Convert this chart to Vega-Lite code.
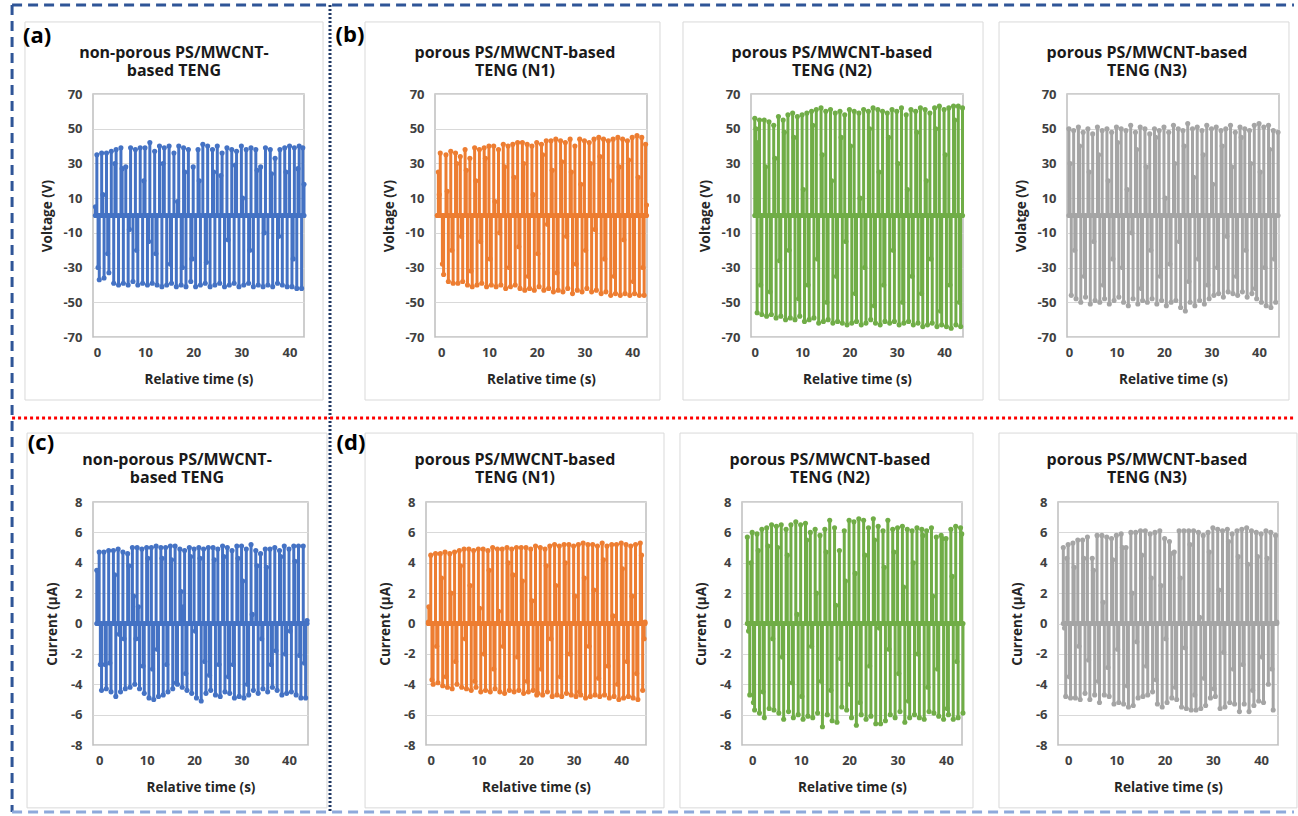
{
"$schema": "https://vega.github.io/schema/vega-lite/v6.json",
"background": "white",
"padding": {"left": 9, "top": 2, "right": 0, "bottom": 0},
"datasets": {
"a": [{"t":-0.3,"v":5},{"t":0,"v":35},{"t":0.25,"v":-30},{"t":0.5,"v":-37},{"t":1,"v":36},{"t":1.25,"v":12},{"t":1.5,"v":-36},{"t":2,"v":36},{"t":2.25,"v":-22},{"t":2.5,"v":-33},{"t":3,"v":37},{"t":3.5,"v":-39},{"t":3.75,"v":30},{"t":4,"v":38},{"t":4.5,"v":-40},{"t":5,"v":39},{"t":5.25,"v":27},{"t":5.5,"v":-39},{"t":6,"v":28},{"t":6.5,"v":-40},{"t":6.75,"v":-8},{"t":7,"v":39},{"t":7.5,"v":-38},{"t":8,"v":38},{"t":8.25,"v":-20},{"t":8.5,"v":-40},{"t":9,"v":39},{"t":9.5,"v":-39},{"t":9.75,"v":20},{"t":10,"v":39},{"t":10.5,"v":-40},{"t":10.75,"v":-15},{"t":11,"v":42},{"t":11.5,"v":-39},{"t":12,"v":37},{"t":12.25,"v":-22},{"t":12.5,"v":-40},{"t":13,"v":40},{"t":13.5,"v":-41},{"t":13.75,"v":30},{"t":14,"v":39},{"t":14.5,"v":-40},{"t":15,"v":40},{"t":15.25,"v":-28},{"t":15.5,"v":-39},{"t":16,"v":36},{"t":16.5,"v":-41},{"t":16.75,"v":8},{"t":17,"v":40},{"t":17.5,"v":-40},{"t":17.75,"v":-30},{"t":18,"v":39},{"t":18.25,"v":25},{"t":18.5,"v":-41},{"t":19,"v":38},{"t":19.5,"v":-38},{"t":19.75,"v":-25},{"t":20,"v":28},{"t":20.5,"v":-41},{"t":21,"v":38},{"t":21.25,"v":20},{"t":21.5,"v":-40},{"t":22,"v":41},{"t":22.5,"v":-39},{"t":22.75,"v":-27},{"t":23,"v":40},{"t":23.5,"v":-41},{"t":24,"v":38},{"t":24.25,"v":25},{"t":24.5,"v":-40},{"t":25,"v":40},{"t":25.5,"v":-39},{"t":25.75,"v":23},{"t":26,"v":36},{"t":26.5,"v":-41},{"t":27,"v":39},{"t":27.25,"v":-14},{"t":27.5,"v":-40},{"t":28,"v":38},{"t":28.5,"v":-39},{"t":28.75,"v":29},{"t":29,"v":37},{"t":29.5,"v":-41},{"t":30,"v":40},{"t":30.25,"v":10},{"t":30.5,"v":-40},{"t":31,"v":38},{"t":31.5,"v":-39},{"t":31.75,"v":-20},{"t":32,"v":39},{"t":32.5,"v":-41},{"t":33,"v":38},{"t":33.25,"v":26},{"t":33.5,"v":-40},{"t":34,"v":28},{"t":34.5,"v":-41},{"t":34.75,"v":-10},{"t":35,"v":39},{"t":35.5,"v":-40},{"t":36,"v":38},{"t":36.25,"v":24},{"t":36.5,"v":-41},{"t":37,"v":33},{"t":37.5,"v":-39},{"t":37.75,"v":-12},{"t":38,"v":38},{"t":38.5,"v":-40},{"t":39,"v":39},{"t":39.25,"v":25},{"t":39.5,"v":-41},{"t":40,"v":40},{"t":40.5,"v":-41},{"t":40.75,"v":-25},{"t":41,"v":39},{"t":41.5,"v":-42},{"t":41.75,"v":27},{"t":42,"v":40},{"t":42.5,"v":-42},{"t":42.75,"v":39},{"t":43,"v":18}],
"b1": [{"t":-0.8,"v":0},{"t":-0.6,"v":25},{"t":-0.4,"v":12},{"t":-0.2,"v":36},{"t":0.25,"v":-28},{"t":0.5,"v":-34},{"t":1,"v":35},{"t":1.25,"v":14},{"t":1.5,"v":-38},{"t":2,"v":37},{"t":2.25,"v":-20},{"t":2.5,"v":-39},{"t":3,"v":36},{"t":3.25,"v":30},{"t":3.5,"v":-39},{"t":4,"v":34},{"t":4.25,"v":-12},{"t":4.5,"v":-38},{"t":5,"v":38},{"t":5.25,"v":26},{"t":5.5,"v":-40},{"t":6,"v":33},{"t":6.25,"v":-32},{"t":6.5,"v":-41},{"t":7,"v":39},{"t":7.25,"v":20},{"t":7.5,"v":-40},{"t":8,"v":38},{"t":8.25,"v":-15},{"t":8.5,"v":-39},{"t":9,"v":39},{"t":9.25,"v":33},{"t":9.5,"v":-41},{"t":10,"v":40},{"t":10.25,"v":-25},{"t":10.5,"v":-40},{"t":11,"v":40},{"t":11.25,"v":8},{"t":11.5,"v":-41},{"t":12,"v":38},{"t":12.25,"v":-10},{"t":12.5,"v":-40},{"t":13,"v":41},{"t":13.25,"v":28},{"t":13.5,"v":-42},{"t":14,"v":40},{"t":14.25,"v":-30},{"t":14.5,"v":-41},{"t":15,"v":41},{"t":15.25,"v":22},{"t":15.5,"v":-40},{"t":16,"v":42},{"t":16.25,"v":-18},{"t":16.5,"v":-42},{"t":17,"v":42},{"t":17.25,"v":30},{"t":17.5,"v":-43},{"t":18,"v":41},{"t":18.25,"v":-35},{"t":18.5,"v":-42},{"t":19,"v":40},{"t":19.25,"v":12},{"t":19.5,"v":-43},{"t":20,"v":42},{"t":20.25,"v":-22},{"t":20.5,"v":-41},{"t":21,"v":41},{"t":21.25,"v":35},{"t":21.5,"v":-43},{"t":22,"v":43},{"t":22.25,"v":-5},{"t":22.5,"v":-42},{"t":23,"v":43},{"t":23.25,"v":26},{"t":23.5,"v":-44},{"t":24,"v":44},{"t":24.25,"v":-33},{"t":24.5,"v":-43},{"t":25,"v":43},{"t":25.25,"v":31},{"t":25.5,"v":-44},{"t":26,"v":42},{"t":26.25,"v":-12},{"t":26.5,"v":-42},{"t":27,"v":44},{"t":27.25,"v":25},{"t":27.5,"v":-45},{"t":28,"v":40},{"t":28.25,"v":-28},{"t":28.5,"v":-43},{"t":29,"v":44},{"t":29.25,"v":18},{"t":29.5,"v":-44},{"t":30,"v":43},{"t":30.25,"v":-20},{"t":30.5,"v":-42},{"t":31,"v":42},{"t":31.25,"v":30},{"t":31.5,"v":-44},{"t":32,"v":44},{"t":32.25,"v":-8},{"t":32.5,"v":-43},{"t":33,"v":45},{"t":33.25,"v":34},{"t":33.5,"v":-45},{"t":34,"v":44},{"t":34.25,"v":-25},{"t":34.5,"v":-44},{"t":35,"v":43},{"t":35.25,"v":20},{"t":35.5,"v":-46},{"t":36,"v":44},{"t":36.25,"v":-35},{"t":36.5,"v":-45},{"t":37,"v":45},{"t":37.25,"v":28},{"t":37.5,"v":-46},{"t":38,"v":44},{"t":38.25,"v":-14},{"t":38.5,"v":-45},{"t":39,"v":43},{"t":39.25,"v":32},{"t":39.5,"v":-46},{"t":40,"v":45},{"t":40.25,"v":-38},{"t":40.5,"v":-45},{"t":41,"v":46},{"t":41.25,"v":22},{"t":41.5,"v":-46},{"t":42,"v":45},{"t":42.25,"v":-30},{"t":42.5,"v":-46},{"t":42.8,"v":41},{"t":43,"v":6}],
"b2": [{"t":0,"v":56},{"t":0.25,"v":50},{"t":0.5,"v":-56},{"t":0.75,"v":42},{"t":1,"v":55},{"t":1.25,"v":-40},{"t":1.5,"v":-57},{"t":2,"v":55},{"t":2.25,"v":28},{"t":2.5,"v":-58},{"t":3,"v":54},{"t":3.25,"v":-44},{"t":3.5,"v":-57},{"t":4,"v":52},{"t":4.25,"v":33},{"t":4.5,"v":-59},{"t":5,"v":57},{"t":5.25,"v":-26},{"t":5.5,"v":-58},{"t":6,"v":55},{"t":6.25,"v":48},{"t":6.5,"v":-60},{"t":7,"v":58},{"t":7.25,"v":-20},{"t":7.5,"v":-59},{"t":8,"v":59},{"t":8.25,"v":45},{"t":8.5,"v":-60},{"t":9,"v":57},{"t":9.25,"v":-48},{"t":9.5,"v":-58},{"t":10,"v":58},{"t":10.25,"v":15},{"t":10.5,"v":-61},{"t":11,"v":59},{"t":11.25,"v":-40},{"t":11.5,"v":-60},{"t":12,"v":60},{"t":12.25,"v":52},{"t":12.5,"v":-59},{"t":13,"v":61},{"t":13.25,"v":-25},{"t":13.5,"v":-62},{"t":14,"v":62},{"t":14.25,"v":35},{"t":14.5,"v":-61},{"t":15,"v":60},{"t":15.25,"v":-50},{"t":15.5,"v":-60},{"t":16,"v":61},{"t":16.25,"v":20},{"t":16.5,"v":-62},{"t":17,"v":59},{"t":17.25,"v":-35},{"t":17.5,"v":-61},{"t":18,"v":60},{"t":18.25,"v":45},{"t":18.5,"v":-62},{"t":19,"v":58},{"t":19.25,"v":-15},{"t":19.5,"v":-63},{"t":20,"v":61},{"t":20.25,"v":40},{"t":20.5,"v":-62},{"t":21,"v":60},{"t":21.25,"v":-45},{"t":21.5,"v":-61},{"t":22,"v":59},{"t":22.25,"v":10},{"t":22.5,"v":-63},{"t":23,"v":61},{"t":23.25,"v":-30},{"t":23.5,"v":-62},{"t":24,"v":60},{"t":24.25,"v":50},{"t":24.5,"v":-60},{"t":25,"v":62},{"t":25.25,"v":-52},{"t":25.5,"v":-62},{"t":26,"v":61},{"t":26.25,"v":25},{"t":26.5,"v":-63},{"t":27,"v":60},{"t":27.25,"v":-40},{"t":27.5,"v":-61},{"t":28,"v":59},{"t":28.25,"v":45},{"t":28.5,"v":-62},{"t":29,"v":61},{"t":29.25,"v":-20},{"t":29.5,"v":-61},{"t":30,"v":60},{"t":30.25,"v":30},{"t":30.5,"v":-63},{"t":31,"v":62},{"t":31.25,"v":-50},{"t":31.5,"v":-62},{"t":32,"v":58},{"t":32.25,"v":15},{"t":32.5,"v":-61},{"t":33,"v":61},{"t":33.25,"v":-35},{"t":33.5,"v":-63},{"t":34,"v":60},{"t":34.25,"v":48},{"t":34.5,"v":-62},{"t":35,"v":62},{"t":35.25,"v":-45},{"t":35.5,"v":-64},{"t":36,"v":61},{"t":36.25,"v":20},{"t":36.5,"v":-63},{"t":37,"v":59},{"t":37.25,"v":-25},{"t":37.5,"v":-62},{"t":38,"v":62},{"t":38.25,"v":50},{"t":38.5,"v":-64},{"t":39,"v":63},{"t":39.25,"v":-55},{"t":39.5,"v":-63},{"t":40,"v":61},{"t":40.25,"v":35},{"t":40.5,"v":-64},{"t":41,"v":62},{"t":41.25,"v":-40},{"t":41.5,"v":-65},{"t":42,"v":63},{"t":42.25,"v":55},{"t":42.5,"v":-63},{"t":43,"v":63},{"t":43.25,"v":-50},{"t":43.5,"v":-64},{"t":43.9,"v":62}],
"b3": [{"t":0,"v":50},{"t":0.25,"v":30},{"t":0.5,"v":-46},{"t":1,"v":49},{"t":1.25,"v":-20},{"t":1.5,"v":-48},{"t":2,"v":51},{"t":2.25,"v":40},{"t":2.5,"v":-50},{"t":3,"v":48},{"t":3.25,"v":-35},{"t":3.5,"v":-47},{"t":4,"v":50},{"t":4.25,"v":25},{"t":4.5,"v":-51},{"t":5,"v":47},{"t":5.25,"v":-15},{"t":5.5,"v":-49},{"t":6,"v":51},{"t":6.25,"v":35},{"t":6.5,"v":-50},{"t":7,"v":49},{"t":7.25,"v":-40},{"t":7.5,"v":-48},{"t":8,"v":50},{"t":8.25,"v":20},{"t":8.5,"v":-51},{"t":9,"v":48},{"t":9.25,"v":-25},{"t":9.5,"v":-49},{"t":10,"v":51},{"t":10.25,"v":42},{"t":10.5,"v":-47},{"t":11,"v":50},{"t":11.25,"v":-30},{"t":11.5,"v":-50},{"t":12,"v":49},{"t":12.25,"v":15},{"t":12.5,"v":-52},{"t":13,"v":52},{"t":13.25,"v":-10},{"t":13.5,"v":-48},{"t":14,"v":48},{"t":14.25,"v":38},{"t":14.5,"v":-51},{"t":15,"v":51},{"t":15.25,"v":-42},{"t":15.5,"v":-49},{"t":16,"v":50},{"t":16.25,"v":28},{"t":16.5,"v":-50},{"t":17,"v":47},{"t":17.25,"v":-20},{"t":17.5,"v":-48},{"t":18,"v":50},{"t":18.25,"v":45},{"t":18.5,"v":-51},{"t":19,"v":49},{"t":19.25,"v":-35},{"t":19.5,"v":-49},{"t":20,"v":51},{"t":20.25,"v":10},{"t":20.5,"v":-52},{"t":21,"v":48},{"t":21.25,"v":-28},{"t":21.5,"v":-50},{"t":22,"v":52},{"t":22.25,"v":30},{"t":22.5,"v":-49},{"t":23,"v":50},{"t":23.25,"v":-15},{"t":23.5,"v":-53},{"t":24,"v":49},{"t":24.25,"v":40},{"t":24.5,"v":-55},{"t":25,"v":53},{"t":25.25,"v":-38},{"t":25.5,"v":-50},{"t":26,"v":50},{"t":26.25,"v":22},{"t":26.5,"v":-52},{"t":27,"v":51},{"t":27.25,"v":-25},{"t":27.5,"v":-49},{"t":28,"v":49},{"t":28.25,"v":35},{"t":28.5,"v":-51},{"t":29,"v":52},{"t":29.25,"v":-40},{"t":29.5,"v":-48},{"t":30,"v":50},{"t":30.25,"v":18},{"t":30.5,"v":-46},{"t":31,"v":51},{"t":31.25,"v":-30},{"t":31.5,"v":-45},{"t":32,"v":49},{"t":32.25,"v":40},{"t":32.5,"v":-47},{"t":33,"v":50},{"t":33.25,"v":-12},{"t":33.5,"v":-44},{"t":34,"v":52},{"t":34.25,"v":28},{"t":34.5,"v":-45},{"t":35,"v":48},{"t":35.25,"v":-35},{"t":35.5,"v":-46},{"t":36,"v":51},{"t":36.25,"v":45},{"t":36.5,"v":-44},{"t":37,"v":50},{"t":37.25,"v":-20},{"t":37.5,"v":-47},{"t":38,"v":49},{"t":38.25,"v":30},{"t":38.5,"v":-45},{"t":39,"v":52},{"t":39.25,"v":-42},{"t":39.5,"v":-48},{"t":40,"v":53},{"t":40.25,"v":25},{"t":40.5,"v":-50},{"t":41,"v":51},{"t":41.25,"v":-30},{"t":41.5,"v":-52},{"t":42,"v":52},{"t":42.25,"v":38},{"t":42.5,"v":-53},{"t":43,"v":49},{"t":43.25,"v":-25},{"t":43.5,"v":-50},{"t":44,"v":48}],
"c": [{"t":-0.5,"v":3.5},{"t":0,"v":4.7},{"t":0.25,"v":-2.7},{"t":0.5,"v":-4.4},{"t":1,"v":4.7},{"t":1.25,"v":-2.7},{"t":1.5,"v":-4.3},{"t":2,"v":4.8},{"t":2.25,"v":-2.6},{"t":2.5,"v":-4.5},{"t":3,"v":4.8},{"t":3.25,"v":3.2},{"t":3.5,"v":-4.8},{"t":4,"v":4.9},{"t":4.25,"v":-0.7},{"t":4.5,"v":-4.5},{"t":5,"v":4.7},{"t":5.25,"v":-1.0},{"t":5.5,"v":-4.3},{"t":6,"v":4.6},{"t":6.25,"v":3.8},{"t":6.5,"v":-4.2},{"t":7,"v":5.0},{"t":7.25,"v":1.8},{"t":7.5,"v":-4.0},{"t":7.75,"v":-1.0},{"t":8,"v":5.0},{"t":8.25,"v":1.1},{"t":8.5,"v":-4.3},{"t":9,"v":4.9},{"t":9.25,"v":-2.8},{"t":9.5,"v":-4.6},{"t":10,"v":5.0},{"t":10.25,"v":4.3},{"t":10.5,"v":-4.9},{"t":11,"v":5.0},{"t":11.25,"v":-3.0},{"t":11.5,"v":-5.0},{"t":12,"v":5.1},{"t":12.25,"v":-1.7},{"t":12.5,"v":-4.8},{"t":13,"v":5.0},{"t":13.25,"v":4.3},{"t":13.5,"v":-4.7},{"t":14,"v":5.0},{"t":14.25,"v":-2.7},{"t":14.5,"v":-4.5},{"t":15,"v":5.1},{"t":15.25,"v":4.2},{"t":15.5,"v":-4.3},{"t":16,"v":5.1},{"t":16.25,"v":-3.9},{"t":16.5,"v":-4.0},{"t":17,"v":4.9},{"t":17.25,"v":2.1},{"t":17.5,"v":-4.2},{"t":17.75,"v":1.1},{"t":18,"v":4.8},{"t":18.25,"v":-3.3},{"t":18.5,"v":-4.4},{"t":19,"v":5.0},{"t":19.25,"v":4.4},{"t":19.5,"v":-4.6},{"t":20,"v":4.9},{"t":20.25,"v":-0.5},{"t":20.5,"v":-4.9},{"t":21,"v":5.0},{"t":21.25,"v":4.3},{"t":21.5,"v":-5.1},{"t":22,"v":4.9},{"t":22.25,"v":-2.5},{"t":22.5,"v":-4.6},{"t":23,"v":5.0},{"t":23.25,"v":-3.4},{"t":23.5,"v":-4.4},{"t":24,"v":5.0},{"t":24.25,"v":4.2},{"t":24.5,"v":-4.7},{"t":25,"v":4.9},{"t":25.25,"v":-2.7},{"t":25.5,"v":-4.8},{"t":26,"v":5.1},{"t":26.25,"v":4.4},{"t":26.5,"v":-4.5},{"t":27,"v":5.0},{"t":27.25,"v":-3.5},{"t":27.5,"v":-4.6},{"t":28,"v":4.8},{"t":28.25,"v":-2.7},{"t":28.5,"v":-4.9},{"t":29,"v":5.1},{"t":29.25,"v":4.3},{"t":29.5,"v":-4.8},{"t":30,"v":5.1},{"t":30.25,"v":2.8},{"t":30.5,"v":-4.9},{"t":31,"v":4.9},{"t":31.25,"v":-4.0},{"t":31.5,"v":-4.7},{"t":32,"v":5.2},{"t":32.25,"v":0.6},{"t":32.5,"v":-4.4},{"t":33,"v":4.8},{"t":33.25,"v":3.8},{"t":33.5,"v":-4.6},{"t":34,"v":4.6},{"t":34.25,"v":-1.0},{"t":34.5,"v":-4.3},{"t":35,"v":4.9},{"t":35.25,"v":3.7},{"t":35.5,"v":-4.5},{"t":36,"v":4.9},{"t":36.25,"v":-2.7},{"t":36.5,"v":-4.2},{"t":37,"v":5.0},{"t":37.25,"v":-1.8},{"t":37.5,"v":-4.4},{"t":38,"v":4.8},{"t":38.25,"v":4.4},{"t":38.5,"v":-4.7},{"t":39,"v":5.1},{"t":39.25,"v":-2.0},{"t":39.5,"v":-4.6},{"t":40,"v":4.9},{"t":40.25,"v":-0.5},{"t":40.5,"v":-4.5},{"t":41,"v":5.1},{"t":41.25,"v":4.1},{"t":41.5,"v":-4.7},{"t":42,"v":5.1},{"t":42.25,"v":-2.1},{"t":42.5,"v":-4.9},{"t":43,"v":5.1},{"t":43.25,"v":-2.6},{"t":43.5,"v":-4.9},{"t":43.8,"v":0.2}],
"d1": [{"t":-0.5,"v":0.1},{"t":-0.4,"v":1.1},{"t":0,"v":4.5},{"t":0.25,"v":-3.7},{"t":0.5,"v":-4.0},{"t":1,"v":4.6},{"t":1.25,"v":-1.5},{"t":1.5,"v":-3.9},{"t":2,"v":4.6},{"t":2.25,"v":3.0},{"t":2.5,"v":-4.1},{"t":3,"v":4.7},{"t":3.25,"v":-3.5},{"t":3.5,"v":-4.2},{"t":4,"v":4.6},{"t":4.25,"v":2.0},{"t":4.5,"v":-4.3},{"t":5,"v":4.7},{"t":5.25,"v":-2.5},{"t":5.5,"v":-4.0},{"t":6,"v":4.8},{"t":6.25,"v":3.8},{"t":6.5,"v":-4.2},{"t":7,"v":4.9},{"t":7.25,"v":-1.0},{"t":7.5,"v":-4.3},{"t":8,"v":4.9},{"t":8.25,"v":2.5},{"t":8.5,"v":-4.4},{"t":9,"v":4.8},{"t":9.25,"v":-3.8},{"t":9.5,"v":-4.2},{"t":10,"v":4.9},{"t":10.25,"v":1.0},{"t":10.5,"v":-4.5},{"t":11,"v":4.9},{"t":11.25,"v":-2.0},{"t":11.5,"v":-4.4},{"t":12,"v":4.8},{"t":12.25,"v":3.5},{"t":12.5,"v":-4.5},{"t":13,"v":5.0},{"t":13.25,"v":-3.0},{"t":13.5,"v":-4.3},{"t":14,"v":4.9},{"t":14.25,"v":0.8},{"t":14.5,"v":-4.5},{"t":15,"v":4.9},{"t":15.25,"v":-1.5},{"t":15.5,"v":-4.6},{"t":16,"v":5.0},{"t":16.25,"v":4.0},{"t":16.5,"v":-4.4},{"t":17,"v":4.9},{"t":17.25,"v":3.2},{"t":17.5,"v":-4.5},{"t":18,"v":5.0},{"t":18.25,"v":-2.2},{"t":18.5,"v":-4.4},{"t":19,"v":5.0},{"t":19.25,"v":2.8},{"t":19.5,"v":-4.6},{"t":20,"v":5.0},{"t":20.25,"v":-3.8},{"t":20.5,"v":-4.5},{"t":21,"v":4.9},{"t":21.25,"v":1.5},{"t":21.5,"v":-4.4},{"t":22,"v":5.1},{"t":22.25,"v":-4.7},{"t":22.5,"v":-4.6},{"t":23,"v":5.0},{"t":23.25,"v":-3.0},{"t":23.5,"v":-4.7},{"t":24,"v":4.9},{"t":24.25,"v":3.8},{"t":24.5,"v":-4.5},{"t":25,"v":5.1},{"t":25.25,"v":-1.0},{"t":25.5,"v":-4.8},{"t":26,"v":5.2},{"t":26.25,"v":2.5},{"t":26.5,"v":-4.7},{"t":27,"v":5.1},{"t":27.25,"v":-3.5},{"t":27.5,"v":-4.8},{"t":28,"v":5.2},{"t":28.25,"v":4.0},{"t":28.5,"v":-4.6},{"t":29,"v":5.2},{"t":29.25,"v":-2.0},{"t":29.5,"v":-4.7},{"t":30,"v":5.1},{"t":30.25,"v":1.8},{"t":30.5,"v":-4.8},{"t":31,"v":5.2},{"t":31.25,"v":-4.5},{"t":31.5,"v":-4.7},{"t":32,"v":5.3},{"t":32.25,"v":3.0},{"t":32.5,"v":-4.9},{"t":33,"v":5.2},{"t":33.25,"v":-1.5},{"t":33.5,"v":-4.8},{"t":34,"v":5.2},{"t":34.25,"v":2.2},{"t":34.5,"v":-4.7},{"t":35,"v":5.1},{"t":35.25,"v":-3.6},{"t":35.5,"v":-4.8},{"t":36,"v":5.3},{"t":36.25,"v":4.2},{"t":36.5,"v":-4.7},{"t":37,"v":5.1},{"t":37.25,"v":-2.8},{"t":37.5,"v":-4.9},{"t":38,"v":5.2},{"t":38.25,"v":0.5},{"t":38.5,"v":-4.8},{"t":39,"v":5.2},{"t":39.25,"v":-4.0},{"t":39.5,"v":-5.0},{"t":40,"v":5.3},{"t":40.25,"v":3.6},{"t":40.5,"v":-4.9},{"t":41,"v":5.2},{"t":41.25,"v":-2.5},{"t":41.5,"v":-4.8},{"t":42,"v":5.1},{"t":42.25,"v":1.8},{"t":42.5,"v":-4.9},{"t":43,"v":5.2},{"t":43.25,"v":-3.3},{"t":43.5,"v":-5.0},{"t":44,"v":5.3},{"t":44.25,"v":4.5},{"t":44.5,"v":-4.4},{"t":44.8,"v":-1.0},{"t":45,"v":0.1}],
"d2": [{"t":-1,"v":5.7},{"t":-0.75,"v":-0.5},{"t":-0.5,"v":-4.7},{"t":-0.25,"v":4.0},{"t":0,"v":6.0},{"t":0.25,"v":-5.2},{"t":0.5,"v":-5.7},{"t":1,"v":5.9},{"t":1.25,"v":4.8},{"t":1.5,"v":-5.9},{"t":2,"v":6.2},{"t":2.25,"v":-4.5},{"t":2.5,"v":-6.2},{"t":3,"v":6.3},{"t":3.25,"v":5.1},{"t":3.5,"v":-5.6},{"t":4,"v":6.5},{"t":4.25,"v":-1.0},{"t":4.5,"v":-5.7},{"t":5,"v":6.4},{"t":5.25,"v":5.0},{"t":5.5,"v":-5.9},{"t":6,"v":6.5},{"t":6.25,"v":-2.2},{"t":6.5,"v":-6.3},{"t":7,"v":6.2},{"t":7.25,"v":4.5},{"t":7.5,"v":-5.8},{"t":8,"v":6.5},{"t":8.25,"v":-3.9},{"t":8.5,"v":-6.2},{"t":9,"v":6.7},{"t":9.25,"v":0.6},{"t":9.5,"v":-6.0},{"t":10,"v":6.5},{"t":10.25,"v":-4.8},{"t":10.5,"v":-6.3},{"t":11,"v":6.6},{"t":11.25,"v":5.5},{"t":11.5,"v":-6.1},{"t":12,"v":6.0},{"t":12.25,"v":-1.5},{"t":12.5,"v":-6.2},{"t":13,"v":6.2},{"t":13.25,"v":2.0},{"t":13.5,"v":-5.9},{"t":14,"v":5.8},{"t":14.25,"v":-3.8},{"t":14.5,"v":-6.8},{"t":15,"v":6.2},{"t":15.25,"v":4.7},{"t":15.5,"v":-6.0},{"t":16,"v":6.8},{"t":16.25,"v":-4.4},{"t":16.5,"v":-6.4},{"t":17,"v":6.3},{"t":17.25,"v":1.2},{"t":17.5,"v":-6.5},{"t":18,"v":4.8},{"t":18.25,"v":-2.3},{"t":18.5,"v":-5.5},{"t":19,"v":6.1},{"t":19.25,"v":2.8},{"t":19.5,"v":-5.7},{"t":20,"v":6.8},{"t":20.25,"v":-4.0},{"t":20.5,"v":-6.2},{"t":21,"v":6.7},{"t":21.25,"v":3.3},{"t":21.5,"v":-6.7},{"t":22,"v":6.9},{"t":22.25,"v":-5.2},{"t":22.5,"v":-6.0},{"t":23,"v":6.8},{"t":23.25,"v":4.5},{"t":23.5,"v":-6.3},{"t":24,"v":6.3},{"t":24.25,"v":-2.8},{"t":24.5,"v":-6.1},{"t":25,"v":6.9},{"t":25.25,"v":5.5},{"t":25.5,"v":-6.6},{"t":26,"v":6.4},{"t":26.25,"v":-0.3},{"t":26.5,"v":-6.6},{"t":27,"v":6.1},{"t":27.25,"v":3.7},{"t":27.5,"v":-6.4},{"t":28,"v":6.8},{"t":28.25,"v":-1.7},{"t":28.5,"v":-6.0},{"t":29,"v":6.2},{"t":29.25,"v":4.7},{"t":29.5,"v":-6.2},{"t":30,"v":6.3},{"t":30.25,"v":-3.3},{"t":30.5,"v":-5.8},{"t":31,"v":6.4},{"t":31.25,"v":2.4},{"t":31.5,"v":-6.5},{"t":32,"v":6.2},{"t":32.25,"v":-5.1},{"t":32.5,"v":-6.2},{"t":33,"v":6.1},{"t":33.25,"v":4.0},{"t":33.5,"v":-6.0},{"t":34,"v":6.3},{"t":34.25,"v":-2.0},{"t":34.5,"v":-6.2},{"t":35,"v":6.2},{"t":35.25,"v":5.8},{"t":35.5,"v":-6.3},{"t":36,"v":6.1},{"t":36.25,"v":-4.2},{"t":36.5,"v":-5.8},{"t":37,"v":6.3},{"t":37.25,"v":1.8},{"t":37.5,"v":-5.9},{"t":38,"v":5.7},{"t":38.25,"v":-3.0},{"t":38.5,"v":-6.1},{"t":39,"v":5.8},{"t":39.25,"v":5.6},{"t":39.5,"v":-6.3},{"t":40,"v":5.6},{"t":40.25,"v":-5.6},{"t":40.5,"v":-6.0},{"t":41,"v":6.2},{"t":41.25,"v":3.1},{"t":41.5,"v":-6.3},{"t":42,"v":6.4},{"t":42.25,"v":-2.5},{"t":42.5,"v":-6.2},{"t":43,"v":6.3},{"t":43.25,"v":5.9},{"t":43.5,"v":-5.9}],
"d3": [{"t":-1,"v":5.0},{"t":-0.75,"v":-0.3},{"t":-0.5,"v":-4.8},{"t":-0.25,"v":4.3},{"t":0,"v":5.2},{"t":0.25,"v":-3.5},{"t":0.5,"v":-4.9},{"t":1,"v":5.3},{"t":1.25,"v":3.7},{"t":1.5,"v":-4.9},{"t":2,"v":5.5},{"t":2.25,"v":-1.5},{"t":2.5,"v":-5.0},{"t":3,"v":5.5},{"t":3.25,"v":4.3},{"t":3.5,"v":-4.6},{"t":4,"v":5.7},{"t":4.25,"v":-2.4},{"t":4.5,"v":-5.0},{"t":5,"v":4.3},{"t":5.25,"v":3.5},{"t":5.5,"v":-4.7},{"t":6,"v":5.8},{"t":6.25,"v":-3.8},{"t":6.5,"v":-5.2},{"t":7,"v":5.8},{"t":7.25,"v":1.4},{"t":7.5,"v":-4.7},{"t":8,"v":5.7},{"t":8.25,"v":-2.9},{"t":8.5,"v":-4.8},{"t":9,"v":5.6},{"t":9.25,"v":4.2},{"t":9.5,"v":-5.3},{"t":10,"v":5.8},{"t":10.25,"v":-1.7},{"t":10.5,"v":-5.2},{"t":11,"v":5.9},{"t":11.25,"v":5.0},{"t":11.5,"v":-5.3},{"t":12,"v":5.0},{"t":12.25,"v":-4.1},{"t":12.5,"v":-5.5},{"t":13,"v":6.0},{"t":13.25,"v":2.0},{"t":13.5,"v":-5.4},{"t":14,"v":6.0},{"t":14.25,"v":-1.2},{"t":14.5,"v":-4.9},{"t":15,"v":6.1},{"t":15.25,"v":4.5},{"t":15.5,"v":-4.8},{"t":16,"v":6.1},{"t":16.25,"v":-2.8},{"t":16.5,"v":-4.7},{"t":17,"v":5.9},{"t":17.25,"v":3.0},{"t":17.5,"v":-4.5},{"t":18,"v":6.0},{"t":18.25,"v":-3.7},{"t":18.5,"v":-5.3},{"t":19,"v":6.1},{"t":19.25,"v":2.5},{"t":19.5,"v":-5.5},{"t":20,"v":5.6},{"t":20.25,"v":-1.0},{"t":20.5,"v":-5.2},{"t":21,"v":5.4},{"t":21.25,"v":4.6},{"t":21.5,"v":-4.9},{"t":22,"v":4.7},{"t":22.25,"v":-4.2},{"t":22.5,"v":-5.0},{"t":23,"v":6.1},{"t":23.25,"v":3.0},{"t":23.5,"v":-5.5},{"t":24,"v":6.1},{"t":24.25,"v":-1.6},{"t":24.5,"v":-5.6},{"t":25,"v":6.1},{"t":25.25,"v":5.2},{"t":25.5,"v":-5.7},{"t":26,"v":6.1},{"t":26.25,"v":-4.7},{"t":26.5,"v":-5.7},{"t":27,"v":6.0},{"t":27.25,"v":0.4},{"t":27.5,"v":-5.6},{"t":28,"v":5.8},{"t":28.25,"v":-3.6},{"t":28.5,"v":-5.4},{"t":29,"v":6.0},{"t":29.25,"v":4.7},{"t":29.5,"v":-4.9},{"t":30,"v":6.3},{"t":30.25,"v":-4.3},{"t":30.5,"v":-4.8},{"t":31,"v":6.2},{"t":31.25,"v":2.2},{"t":31.5,"v":-5.6},{"t":32,"v":6.1},{"t":32.25,"v":-1.9},{"t":32.5,"v":-5.5},{"t":33,"v":6.2},{"t":33.25,"v":5.4},{"t":33.5,"v":-5.2},{"t":34,"v":5.9},{"t":34.25,"v":-3.0},{"t":34.5,"v":-5.3},{"t":35,"v":6.1},{"t":35.25,"v":4.4},{"t":35.5,"v":-5.8},{"t":36,"v":6.2},{"t":36.25,"v":-2.7},{"t":36.5,"v":-5.3},{"t":37,"v":6.3},{"t":37.25,"v":3.9},{"t":37.5,"v":-5.8},{"t":38,"v":6.1},{"t":38.25,"v":-4.4},{"t":38.5,"v":-5.4},{"t":39,"v":6.0},{"t":39.25,"v":4.4},{"t":39.5,"v":-5.1},{"t":40,"v":5.9},{"t":40.25,"v":-2.2},{"t":40.5,"v":-5.2},{"t":41,"v":6.1},{"t":41.25,"v":4.3},{"t":41.5,"v":-4.0},{"t":42,"v":6.0},{"t":42.25,"v":-3.0},{"t":42.5,"v":-5.7},{"t":43,"v":5.8},{"t":43.25,"v":0.1}]
},
"vconcat": [
{"hconcat": [
{"width":211,"height":243,"data":{"name":"a"},
"encoding":{"x":{"field":"t","type":"quantitative","scale":{"domain":[-0.8,43]},"axis":{"values":[0,10,20,30,40],"title":"Relative time (s)"}},
"y":{"field":"v","type":"quantitative","scale":{"domain":[-70,70]},"axis":{"values":[-70,-50,-30,-10,10,30,50,70],"title":"Voltage (V)","minExtent":33,"maxExtent":33}}},
"layer":[
{"transform":[{"filter":"datum.t == 1"}],"mark":{"type":"rule","clip":false,"color":"#2F5597","strokeWidth":3,"strokeDash":[10,6]},"encoding":{"x":{"datum":-17.6},"x2":{"datum":248.5},"y":{"datum":121.3}}},
{"transform":[{"filter":"datum.t == 1"}],"mark":{"type":"rule","clip":false,"color":"#2F5597","strokeWidth":3,"strokeDash":[10,6]},"encoding":{"x":{"datum":-17.6},"y":{"datum":121.3},"y2":{"datum":-343.7}}},
{"transform":[{"filter":"datum.t == 1"}],"mark":{"type":"rule","clip":false,"color":"#8EA9DB","strokeWidth":3,"strokeDash":[10,6]},"encoding":{"x":{"datum":-17.6},"x2":{"datum":248.5},"y":{"datum":-343.7}}},
{"transform":[{"filter":"datum.t == 1"}],"mark":{"type":"rule","clip":false,"color":"#1F3864","strokeWidth":3,"strokeDash":[2,2]},"encoding":{"x":{"datum":48.4},"y":{"datum":121.3},"y2":{"datum":-343.7}}},
{"transform":[{"filter":"datum.t == 1"}],"mark":{"type":"rule","clip":false,"color":"#FF0000","strokeWidth":3,"strokeDash":[3,3]},"encoding":{"x":{"datum":-17.6},"x2":{"datum":248.5},"y":{"datum":-116.7}}},
{"transform":[{"filter":"datum.t == 1"}],"mark":{"type":"rect","clip":false,"filled":false,"color":"#d9d9d9","strokeWidth":1},"encoding":{"x":{"datum":-14.92},"x2":{"datum":46.95},"y":{"datum":111.5},"y2":{"datum":-106.3}}},
{"mark":{"type":"rule","color":"#4472C4"},"encoding":{"y2":{"datum":0}}},{"mark":{"type":"point","color":"#4472C4"}},{"mark":{"type":"point","color":"#4472C4"},"encoding":{"y":{"datum":0}}},
{"transform":[{"filter":"datum.t == 1"}],"mark":{"type":"text","clip":false,"fontSize":22,"fontWeight":"bold","color":"#000000"},"encoding":{"text":{"value":"(a)"},"x":{"datum":-12.4},"y":{"datum":103.4}}},
{"transform":[{"filter":"datum.t == 1"}],"mark":{"type":"text","clip":false,"fontSize":16,"fontWeight":"bold","color":"#1a1a1a","lineHeight":18,"align":"center","baseline":"middle"},"encoding":{"text":{"value":["non-porous PS/MWCNT-","based TENG"]},"x":{"datum":16.0},"y":{"datum":93.6}}}]},
{"hconcat": [
{"width":212,"height":243,"data":{"name":"b1"},
"encoding":{"x":{"field":"t","type":"quantitative","scale":{"domain":[-1.3,43.1]},"axis":{"values":[0,10,20,30,40],"title":"Relative time (s)"}},
"y":{"field":"v","type":"quantitative","scale":{"domain":[-70,70]},"axis":{"values":[-70,-50,-30,-10,10,30,50,70],"title":"Voltage (V)","minExtent":33,"maxExtent":33}}},
"layer":[
{"transform":[{"filter":"datum.t == 1"}],"mark":{"type":"rect","clip":false,"filled":false,"color":"#d9d9d9","strokeWidth":1},"encoding":{"x":{"datum":-15.96},"x2":{"datum":45.82},"y":{"datum":111.5},"y2":{"datum":-106.3}}},
{"mark":{"type":"rule","color":"#ED7D31"},"encoding":{"y2":{"datum":0}}},{"mark":{"type":"point","color":"#ED7D31"}},{"mark":{"type":"point","color":"#ED7D31"},"encoding":{"y":{"datum":0}}},
{"transform":[{"filter":"datum.t == 1"}],"mark":{"type":"text","clip":false,"fontSize":22,"fontWeight":"bold","color":"#000000"},"encoding":{"text":{"value":"(b)"},"x":{"datum":-19.1},"y":{"datum":104}}},
{"transform":[{"filter":"datum.t == 1"}],"mark":{"type":"text","clip":false,"fontSize":16,"fontWeight":"bold","color":"#1a1a1a","lineHeight":18,"align":"center","baseline":"middle"},"encoding":{"text":{"value":["porous PS/MWCNT-based","TENG (N1)"]},"x":{"datum":15.45},"y":{"datum":93.6}}}]},
{"width":212,"height":243,"data":{"name":"b2"},
"encoding":{"x":{"field":"t","type":"quantitative","scale":{"domain":[-0.8,44]},"axis":{"values":[0,10,20,30,40],"title":"Relative time (s)"}},
"y":{"field":"v","type":"quantitative","scale":{"domain":[-70,70]},"axis":{"values":[-70,-50,-30,-10,10,30,50,70],"title":"Voltage (V)","minExtent":33,"maxExtent":33}}},
"layer":[
{"transform":[{"filter":"datum.t == 1"}],"mark":{"type":"rect","clip":false,"filled":false,"color":"#d9d9d9","strokeWidth":1},"encoding":{"x":{"datum":-15.17},"x2":{"datum":48.23},"y":{"datum":111.5},"y2":{"datum":-106.3}}},
{"mark":{"type":"rule","color":"#70AD47"},"encoding":{"y2":{"datum":0}}},{"mark":{"type":"point","color":"#70AD47"}},{"mark":{"type":"point","color":"#70AD47"},"encoding":{"y":{"datum":0}}},
{"transform":[{"filter":"datum.t == 1"}],"mark":{"type":"text","clip":false,"fontSize":16,"fontWeight":"bold","color":"#1a1a1a","lineHeight":18,"align":"center","baseline":"middle"},"encoding":{"text":{"value":["porous PS/MWCNT-based","TENG (N2)"]},"x":{"datum":16.32},"y":{"datum":93.6}}}]},
{"width":212,"height":243,"data":{"name":"b3"},
"encoding":{"x":{"field":"t","type":"quantitative","scale":{"domain":[-0.4,44.2]},"axis":{"values":[0,10,20,30,40],"title":"Relative time (s)"}},
"y":{"field":"v","type":"quantitative","scale":{"domain":[-70,70]},"axis":{"values":[-70,-50,-30,-10,10,30,50,70],"title":"Volatge (V)","minExtent":33,"maxExtent":33}}},
"layer":[
{"transform":[{"filter":"datum.t == 1"}],"mark":{"type":"rect","clip":false,"filled":false,"color":"#d9d9d9","strokeWidth":1},"encoding":{"x":{"datum":-14.7},"x2":{"datum":46.3},"y":{"datum":111.5},"y2":{"datum":-106.3}}},
{"mark":{"type":"rule","color":"#A5A5A5"},"encoding":{"y2":{"datum":0}}},{"mark":{"type":"point","color":"#A5A5A5"}},{"mark":{"type":"point","color":"#A5A5A5"},"encoding":{"y":{"datum":0}}},
{"transform":[{"filter":"datum.t == 1"}],"mark":{"type":"text","clip":false,"fontSize":16,"fontWeight":"bold","color":"#1a1a1a","lineHeight":18,"align":"center","baseline":"middle"},"encoding":{"text":{"value":["porous PS/MWCNT-based","TENG (N3)"]},"x":{"datum":16.43},"y":{"datum":93.6}}}]}
], "spacing": 104, "bounds": "flush"}
], "spacing": 131, "bounds": "flush"},
{"hconcat": [
{"width":215,"height":243,"data":{"name":"c"},
"encoding":{"x":{"field":"t","type":"quantitative","scale":{"domain":[-1.3,44]},"axis":{"values":[0,10,20,30,40],"title":"Relative time (s)"}},
"y":{"field":"v","type":"quantitative","scale":{"domain":[-8,8]},"axis":{"values":[-8,-6,-4,-2,0,2,4,6,8],"title":"Current (µA)","minExtent":28,"maxExtent":28}}},
"layer":[
{"transform":[{"filter":"datum.t == 1"}],"mark":{"type":"rect","clip":false,"filled":false,"color":"#d9d9d9","strokeWidth":1},"encoding":{"x":{"datum":-15.2},"x2":{"datum":48.0},"y":{"datum":12.54},"y2":{"datum":-12.14}}},
{"mark":{"type":"rule","color":"#4472C4"},"encoding":{"y2":{"datum":0}}},{"mark":{"type":"point","color":"#4472C4"}},{"mark":{"type":"point","color":"#4472C4"},"encoding":{"y":{"datum":0}}},
{"transform":[{"filter":"datum.t == 1"}],"mark":{"type":"text","clip":false,"fontSize":22,"fontWeight":"bold","color":"#000000"},"encoding":{"text":{"value":"(c)"},"x":{"datum":-12.26},"y":{"datum":11.9}}},
{"transform":[{"filter":"datum.t == 1"}],"mark":{"type":"text","clip":false,"fontSize":16,"fontWeight":"bold","color":"#1a1a1a","lineHeight":18,"align":"center","baseline":"middle"},"encoding":{"text":{"value":["non-porous PS/MWCNT-","based TENG"]},"x":{"datum":16.4},"y":{"datum":10.76}}}]},
{"hconcat": [
{"width":220,"height":243,"data":{"name":"d1"},
"encoding":{"x":{"field":"t","type":"quantitative","scale":{"domain":[-1,45.2]},"axis":{"values":[0,10,20,30,40],"title":"Relative time (s)"}},
"y":{"field":"v","type":"quantitative","scale":{"domain":[-8,8]},"axis":{"values":[-8,-6,-4,-2,0,2,4,6,8],"title":"Current (µA)","minExtent":28,"maxExtent":28}}},
"layer":[
{"transform":[{"filter":"datum.t == 1"}],"mark":{"type":"rect","clip":false,"filled":false,"color":"#d9d9d9","strokeWidth":1},"encoding":{"x":{"datum":-13.8},"x2":{"datum":48.98},"y":{"datum":12.54},"y2":{"datum":-12.14}}},
{"mark":{"type":"rule","color":"#ED7D31"},"encoding":{"y2":{"datum":0}}},{"mark":{"type":"point","color":"#ED7D31"}},{"mark":{"type":"point","color":"#ED7D31"},"encoding":{"y":{"datum":0}}},
{"transform":[{"filter":"datum.t == 1"}],"mark":{"type":"text","clip":false,"fontSize":22,"fontWeight":"bold","color":"#000000"},"encoding":{"text":{"value":"(d)"},"x":{"datum":-16.75},"y":{"datum":11.9}}},
{"transform":[{"filter":"datum.t == 1"}],"mark":{"type":"text","clip":false,"fontSize":16,"fontWeight":"bold","color":"#1a1a1a","lineHeight":18,"align":"center","baseline":"middle"},"encoding":{"text":{"value":["porous PS/MWCNT-based","TENG (N1)"]},"x":{"datum":17.69},"y":{"datum":10.76}}}]},
{"width":220,"height":243,"data":{"name":"d2"},
"encoding":{"x":{"field":"t","type":"quantitative","scale":{"domain":[-2.1,43.3]},"axis":{"values":[0,10,20,30,40],"title":"Relative time (s)"}},
"y":{"field":"v","type":"quantitative","scale":{"domain":[-8,8]},"axis":{"values":[-8,-6,-4,-2,0,2,4,6,8],"title":"Current (µA)","minExtent":28,"maxExtent":28}}},
"layer":[
{"transform":[{"filter":"datum.t == 1"}],"mark":{"type":"rect","clip":false,"filled":false,"color":"#d9d9d9","strokeWidth":1},"encoding":{"x":{"datum":-14.9},"x2":{"datum":45.57},"y":{"datum":12.54},"y2":{"datum":-12.14}}},
{"mark":{"type":"rule","color":"#70AD47"},"encoding":{"y2":{"datum":0}}},{"mark":{"type":"point","color":"#70AD47"}},{"mark":{"type":"point","color":"#70AD47"},"encoding":{"y":{"datum":0}}},
{"transform":[{"filter":"datum.t == 1"}],"mark":{"type":"text","clip":false,"fontSize":16,"fontWeight":"bold","color":"#1a1a1a","lineHeight":18,"align":"center","baseline":"middle"},"encoding":{"text":{"value":["porous PS/MWCNT-based","TENG (N2)"]},"x":{"datum":16.06},"y":{"datum":10.76}}}]},
{"width":220,"height":243,"data":{"name":"d3"},
"encoding":{"x":{"field":"t","type":"quantitative","scale":{"domain":[-2.1,43.5]},"axis":{"values":[0,10,20,30,40],"title":"Relative time (s)"}},
"y":{"field":"v","type":"quantitative","scale":{"domain":[-8,8]},"axis":{"values":[-8,-6,-4,-2,0,2,4,6,8],"title":"Current (µA)","minExtent":28,"maxExtent":28}}},
"layer":[
{"transform":[{"filter":"datum.t == 1"}],"mark":{"type":"rect","clip":false,"filled":false,"color":"#d9d9d9","strokeWidth":1},"encoding":{"x":{"datum":-14.33},"x2":{"datum":47.43},"y":{"datum":12.54},"y2":{"datum":-12.14}}},
{"mark":{"type":"rule","color":"#A5A5A5"},"encoding":{"y2":{"datum":0}}},{"mark":{"type":"point","color":"#A5A5A5"}},{"mark":{"type":"point","color":"#A5A5A5"},"encoding":{"y":{"datum":0}}},
{"transform":[{"filter":"datum.t == 1"}],"mark":{"type":"text","clip":false,"fontSize":16,"fontWeight":"bold","color":"#1a1a1a","lineHeight":18,"align":"center","baseline":"middle"},"encoding":{"text":{"value":["porous PS/MWCNT-based","TENG (N3)"]},"x":{"datum":16.35},"y":{"datum":10.76}}}]}
], "spacing": 96, "bounds": "flush"}
], "spacing": 118, "bounds": "flush"}
],
"spacing": 408,
"bounds": "flush",
"config": {
"font": "Open Sans",
"locale": {"number": {"decimal": ".", "thousands": ",", "grouping": [3], "currency": ["$", ""], "minus": "-"}},
"view": {"stroke": "#bfbfbf", "strokeWidth": 1.5},
"axis": {"labelFont": "Open Sans", "titleFont": "Open Sans", "labelFontWeight": "bold", "labelFontSize": 13, "labelColor": "#404040", "titleFontWeight": "bold", "titleFontSize": 13.5, "titleColor": "#262626", "ticks": false, "domain": false, "gridColor": "#d9d9d9", "gridWidth": 1, "labelFlush": false},
"axisX": {"grid": false, "labelPadding": 9, "titlePadding": 13},
"axisY": {"labelPadding": 11, "titlePadding": 6},
"point": {"filled": true, "opacity": 1, "size": 26},
"rule": {"strokeWidth": 3}
}
}
